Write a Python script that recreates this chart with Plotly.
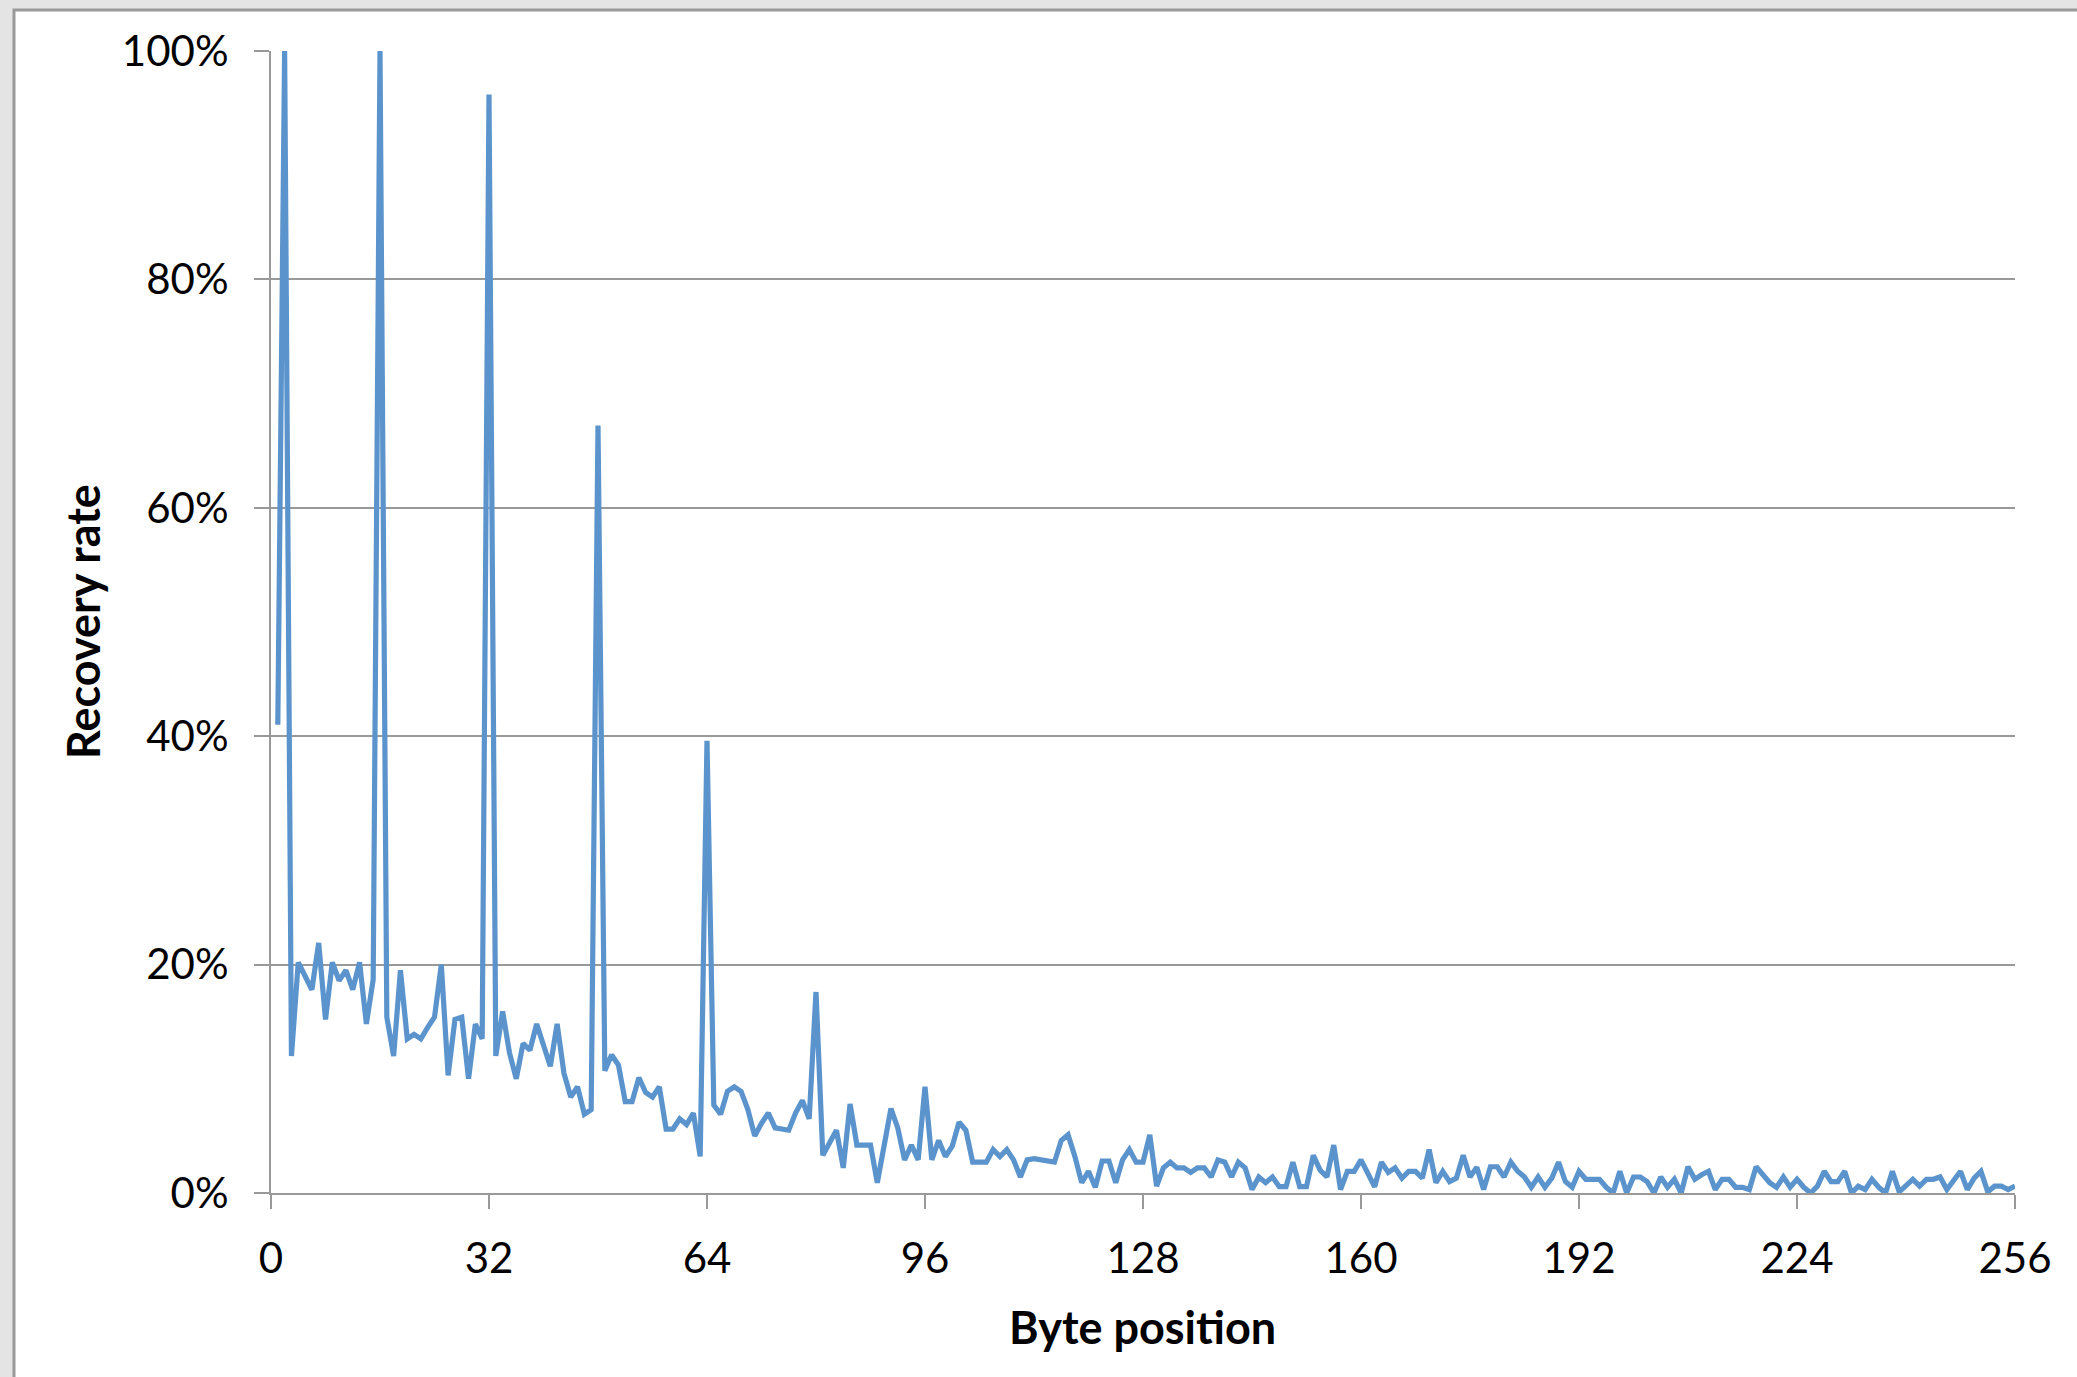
import plotly.graph_objects as go

# Byte positions 1..256
byte_positions = list(range(1, 257))

# Recovery rate (%) per byte position
recovery_rate = [
    41.0, 100.0, 12.0, 20.2, 19.0, 17.8, 21.9, 15.2, 20.2, 18.6,
    19.5, 17.8, 20.2, 14.8, 18.7, 100.0, 15.4, 12.0, 19.5, 13.5,
    13.9, 13.5, 14.5, 15.4, 20.0, 10.3, 15.2, 15.4, 10.0, 14.8,
    13.5, 96.2, 12.0, 15.9, 12.3, 10.0, 13.1, 12.5, 14.8, 13.0,
    11.1, 14.8, 10.5, 8.4, 9.3, 6.9, 7.3, 67.2, 10.7, 12.1,
    11.2, 8.0, 8.0, 10.1, 8.8, 8.4, 9.3, 5.6, 5.6, 6.5,
    6.0, 7.0, 3.2, 39.6, 7.7, 6.9, 8.9, 9.3, 8.9, 7.3,
    5.0, 6.1, 7.0, 5.7, 5.6, 5.5, 7.0, 8.1, 6.5, 17.6,
    3.3, 4.5, 5.5, 2.2, 7.8, 4.2, 4.2, 4.2, 0.9, 4.2,
    7.4, 5.7, 2.9, 4.2, 2.9, 9.3, 2.9, 4.6, 3.2, 4.1,
    6.2, 5.5, 2.7, 2.7, 2.7, 3.8, 3.2, 3.8, 2.9, 1.4,
    2.9, 3.0, 2.9, 2.7, 2.7, 4.6, 5.1, 3.2, 0.9, 1.9,
    0.5, 2.8, 2.8, 0.9, 2.9, 3.8, 2.7, 2.7, 5.1, 0.6,
    2.2, 2.7, 2.2, 2.2, 1.8, 2.2, 2.2, 1.4, 2.9, 2.7,
    1.4, 2.7, 2.2, 0.3, 1.4, 0.9, 1.4, 0.55, 0.55, 2.7,
    0.55, 0.55, 3.3, 2.0, 1.4, 4.2, 0.3, 1.9, 1.9, 2.9,
    1.8, 0.55, 2.7, 1.8, 2.2, 1.3, 1.9, 1.9, 1.3, 3.8,
    0.9, 1.9, 1.0, 1.3, 3.3, 1.4, 2.25, 0.3, 2.3, 2.3,
    1.4, 2.7, 1.9, 1.4, 0.5, 1.4, 0.5, 1.3, 2.7, 1.0,
    0.5, 1.9, 1.2, 1.2, 1.2, 0.5, 0.0, 1.9, 0.0, 1.4,
    1.4, 1.0, 0.0, 1.4, 0.5, 1.2, 0.0, 2.3, 1.2, 1.6,
    1.9, 0.3, 1.2, 1.2, 0.5, 0.5, 0.3, 2.3, 1.6, 0.9,
    0.5, 1.4, 0.5, 1.2, 0.5, 0.0, 0.6, 1.9, 1.0, 1.0,
    1.9, 0.0, 0.6, 0.3, 1.2, 0.5, 0.0, 1.9, 0.1, 0.6,
    1.2, 0.6, 1.2, 1.2, 1.4, 0.3, 1.2, 1.9, 0.3, 1.3,
    1.9, 0.1, 0.6, 0.6, 0.3, 0.6,
]
recovery_frac = [v / 100.0 for v in recovery_rate]

x_ticks = [0, 32, 64, 96, 128, 160, 192, 224, 256]
y_ticks = [0, 0.2, 0.4, 0.6, 0.8, 1.0]
y_tick_labels = ["0%", "20%", "40%", "60%", "80%", "100%"]

W, H = 2077, 1377
ML, MR, MT, MB = 271, 62, 51, 184
pw = W - ML - MR
ph = H - MT - MB

def px_to_paper_x(px):
    return (px - ML) / pw

def px_to_paper_y(py):
    return (H - MB - py) / ph

fig = go.Figure()
fig.add_trace(go.Scatter(
    x=byte_positions, y=recovery_frac, mode="lines",
    line=dict(color="#5b94cc", width=5.2),
    showlegend=False,
))

grid_col = "#999999"
fig.update_layout(
    width=W, height=H,
    margin=dict(l=ML, r=MR, t=MT, b=MB, pad=0),
    paper_bgcolor="#e4e4e4",
    plot_bgcolor="rgba(0,0,0,0)",
    font=dict(family="Lato, sans-serif", color="#000000"),
    xaxis=dict(
        range=[0, 256], tickvals=x_ticks, ticktext=[str(t) for t in x_ticks],
        showgrid=False, zeroline=False,
        showline=True, linecolor=grid_col, linewidth=2,
        ticks="outside", ticklen=14, tickwidth=2, tickcolor=grid_col,
        tickfont=dict(size=42, family="Lato, sans-serif", color="#000"),
        ticklabelstandoff=14,
    ),
    yaxis=dict(
        range=[0, 1.0], tickvals=y_ticks, ticktext=y_tick_labels,
        showgrid=True, gridcolor=grid_col, gridwidth=2,
        zeroline=False,
        showline=True, linecolor=grid_col, linewidth=2,
        ticks="outside", ticklen=15, tickwidth=2, tickcolor=grid_col,
        tickfont=dict(size=42, family="Lato, sans-serif", color="#000"),
        ticklabelstandoff=17,
    ),
    shapes=[
        dict(type="rect", xref="paper", yref="paper", layer="below",
             x0=px_to_paper_x(14), x1=px_to_paper_x(W + 10),
             y0=px_to_paper_y(H + 10), y1=px_to_paper_y(10),
             fillcolor="#ffffff", line=dict(color="#9a9a9a", width=3)),
    ],
    annotations=[
        dict(text="<b>Byte position</b>", xref="paper", yref="paper",
             x=px_to_paper_x(1142), y=px_to_paper_y(1327),
             xanchor="center", yanchor="middle", showarrow=False,
             font=dict(size=45, family="Lato, sans-serif", color="#000")),
        dict(text="<b>Recovery rate</b>", xref="paper", yref="paper",
             x=px_to_paper_x(83), y=px_to_paper_y(622), textangle=-90,
             xanchor="center", yanchor="middle", showarrow=False,
             font=dict(size=45, family="Lato, sans-serif", color="#000")),
    ],
)

fig.write_html("out.html")
